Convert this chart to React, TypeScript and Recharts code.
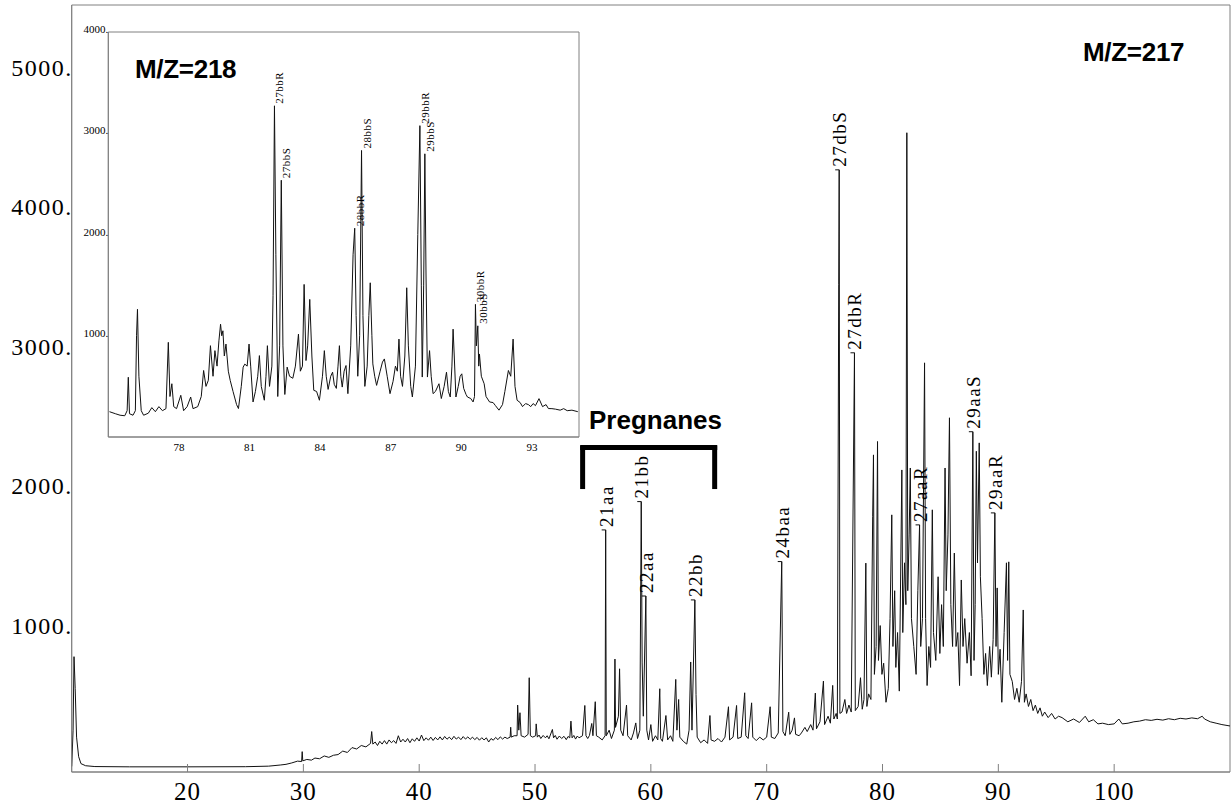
import {
  ComposedChart,
  Line,
  Scatter,
  XAxis,
  YAxis,
  ReferenceArea,
  ReferenceLine,
} from "recharts";

type Pt = [number, number];

const SERIF = "'Liberation Serif', 'Times New Roman', serif";
const SANS = "'Liberation Sans', Arial, sans-serif";
const AXIS_GRAY = "#808080";
const TRACE = "#111";

// main m/z 217 trace, retention time vs intensity
const X_TICKS = [20, 30, 40, 50, 60, 70, 80, 90, 100];
const Y_TICKS = [1000, 2000, 3000, 4000, 5000];

const solventFront: Pt[] = [
  [10.0, 40], [10.12, 300], [10.2, 827], [10.3, 600], [10.42, 250], [10.6, 110],
  [10.8, 60], [11.2, 45], [12, 39], [15, 37], [20, 37], [25, 38],
];

const ramp: Pt[] = [
  [27, 42], [28, 50], [28.5, 55], [29, 65], [29.5, 78], [29.85, 75], [29.9, 146],
  [29.95, 80], [30.3, 90], [30.7, 85], [31, 100], [31.4, 95], [31.8, 115],
  [32.2, 105], [32.6, 120], [33, 125], [33.4, 150], [33.8, 140], [34.2, 175],
  [34.6, 165], [35, 190], [35.4, 180], [35.8, 205], [35.9, 290], [36.0, 200],
  [36.2, 215], [36.4, 190], [36.6, 220], [36.8, 200], [37.0, 225], [37.2, 200],
  [37.4, 230], [37.6, 210], [37.8, 225], [38, 205], [38.2, 260], [38.4, 215],
  [38.6, 235], [38.8, 215], [39.0, 240], [39.2, 210], [39.4, 238], [39.6, 220],
  [39.8, 245], [40, 222], [40.2, 265], [40.4, 225], [40.6, 245], [40.8, 228],
  [41.0, 250], [41.2, 226], [41.4, 248], [41.6, 230], [41.8, 252], [42, 230],
  [42.2, 255], [42.4, 235], [42.6, 250], [42.8, 232], [43.0, 256], [43.2, 236],
  [43.4, 250], [43.6, 232], [43.8, 254], [44, 236], [44.2, 252], [44.4, 234],
  [44.6, 250], [44.8, 232], [45.0, 248], [45.2, 228], [45.4, 246], [45.6, 230],
  [45.8, 245], [46, 215], [46.2, 240], [46.4, 228], [46.6, 248], [46.8, 232],
  [47.0, 252], [47.2, 236], [47.4, 250],
];

const earlyPeaks: Pt[] = [
  [47.6, 240], [47.85, 250], [47.9, 321], [47.95, 250], [48.2, 260], [48.45, 260],
  [48.5, 480], [48.6, 300], [48.7, 425], [48.8, 260], [49.1, 250], [49.4, 270],
  [49.5, 676], [49.6, 260], [49.8, 250], [50.05, 260], [50.1, 345], [50.2, 250],
  [50.35, 265], [50.5, 240], [50.7, 262], [50.9, 245], [51.05, 260], [51.2, 238],
  [51.5, 305], [51.6, 245], [51.75, 262], [51.9, 235], [52.1, 258], [52.3, 240],
  [52.5, 256], [52.7, 232], [52.85, 255], [53.0, 245], [53.1, 365], [53.2, 245],
  [53.35, 262], [53.5, 236], [53.65, 258], [53.8, 245], [54.1, 260], [54.3, 477],
  [54.4, 260], [54.55, 240], [54.7, 262], [54.9, 348], [55.0, 260], [55.2, 504],
  [55.3, 260],
];

const pregnaneZone: Pt[] = [
  [55.5, 250], [55.8, 230], [56.05, 260], [56.1, 1736], [56.15, 260], [56.4, 300],
  [56.6, 240], [56.85, 300], [56.9, 810], [56.95, 320], [57.2, 400], [57.3, 740],
  [57.4, 300], [57.6, 260], [57.9, 480], [58.0, 260], [58.3, 230], [58.5, 280],
  [58.7, 352], [58.85, 240], [59.05, 300], [59.17, 1939], [59.25, 782], [59.35, 400],
  [59.57, 1262], [59.65, 300], [59.8, 230], [60.0, 340], [60.15, 220], [60.4, 260],
  [60.6, 230], [60.77, 597], [60.85, 240], [61.0, 220], [61.3, 405], [61.45, 230],
  [61.7, 260], [61.9, 220], [62.15, 664], [62.25, 300], [62.4, 520], [62.5, 250],
  [62.8, 220], [63.1, 200], [63.3, 300], [63.44, 789], [63.55, 300], [63.8, 1234],
  [63.9, 556], [64.0, 250], [64.3, 210], [64.6, 230], [64.9, 205], [65.1, 405],
  [65.2, 230], [65.5, 220], [65.8, 240], [66.1, 215], [66.4, 250], [66.7, 468],
  [66.8, 230], [67.1, 250], [67.4, 477], [67.5, 240], [67.8, 250], [68.1, 568],
  [68.2, 260], [68.4, 240], [68.7, 496], [68.8, 250], [69.1, 225], [69.4, 250],
  [69.7, 230], [70.0, 250], [70.3, 468], [70.4, 250], [70.7, 240], [71.0, 280],
  [71.3, 1509], [71.4, 290], [71.6, 260], [71.9, 429], [72.0, 270], [72.2, 300],
  [72.4, 388], [72.5, 270], [72.8, 260], [73.0, 280],
];

const steraneZone: Pt[] = [
  [73.3, 320], [73.5, 290], [73.8, 340], [74.0, 300], [74.2, 566], [74.3, 310],
  [74.6, 360], [74.9, 652], [75.0, 340], [75.3, 400], [75.5, 350], [75.7, 621],
  [75.8, 380], [76.0, 420], [76.1, 380], [76.22, 3494], [76.26, 4318], [76.32, 420],
  [76.5, 430], [76.75, 520], [76.9, 420], [77.1, 480], [77.3, 430], [77.58, 3006],
  [77.65, 440], [77.9, 470], [78.1, 676], [78.25, 450], [78.4, 520], [78.56, 1498],
  [78.65, 470], [78.8, 560], [79.0, 520], [79.15, 1830], [79.22, 2274], [79.3, 700],
  [79.45, 900], [79.57, 2370], [79.65, 800], [79.8, 1050], [79.95, 700], [80.1, 780],
  [80.3, 500], [80.5, 600], [80.65, 1100], [80.8, 1844], [80.9, 900], [81.05, 1300],
  [81.15, 750], [81.3, 1000], [81.45, 580], [81.67, 2166], [81.75, 1000], [81.9, 1500],
  [82.02, 1200], [82.1, 4584], [82.18, 1300], [82.3, 1700], [82.4, 2180], [82.5, 1100],
  [82.7, 900], [82.9, 700], [83.05, 1300], [83.2, 1772], [83.3, 900], [83.45, 1100],
  [83.63, 2934], [83.72, 1100], [83.85, 620], [84.0, 900], [84.15, 750], [84.3, 1880],
  [84.4, 1000], [84.6, 800], [84.8, 1400], [84.95, 850], [85.1, 1200], [85.25, 900],
  [85.4, 2180], [85.5, 1300], [85.65, 1700], [85.78, 2540], [85.9, 1200], [86.05, 900],
  [86.2, 1570], [86.35, 900], [86.5, 1000], [86.65, 620], [86.8, 1377], [86.95, 900],
  [87.1, 1100], [87.3, 780], [87.5, 1000], [87.65, 690], [87.8, 2440], [87.9, 800],
  [88.0, 1200], [88.1, 2300], [88.2, 1500], [88.35, 2360], [88.45, 1400], [88.6, 1100],
  [88.75, 700], [88.9, 850], [89.05, 620], [89.25, 900], [89.4, 680], [89.55, 950],
  [89.7, 1858], [89.8, 900], [89.9, 1320], [90.0, 700], [90.15, 880], [90.3, 500],
  [90.5, 1000], [90.7, 1500], [90.8, 800], [90.9, 1507], [91.0, 700], [91.2, 650],
  [91.4, 520], [91.6, 600], [91.8, 500], [92.0, 650], [92.15, 1162], [92.25, 500],
  [92.4, 560], [92.6, 470], [92.8, 520], [93.0, 440], [93.2, 480], [93.4, 420],
  [93.6, 460], [93.8, 400], [94.0, 430], [94.3, 390], [94.6, 420], [94.9, 380],
  [95.2, 400],
];

const tail: Pt[] = [
  [95.5, 390], [96, 360], [96.5, 380], [97, 355], [97.5, 400], [97.8, 360],
  [98.2, 375], [98.6, 345], [99, 350], [99.5, 340], [100, 345], [100.4, 380],
  [100.7, 345], [101.2, 350], [101.7, 360], [102.2, 365], [102.7, 375], [103.2, 370],
  [103.7, 378], [104.2, 372], [104.7, 382], [105.2, 375], [105.7, 385], [106.2, 380],
  [106.7, 388], [107.2, 382], [107.6, 400], [107.8, 380], [108.3, 360], [108.8, 350],
  [109.3, 340], [110, 330],
];

const mainLabels = [
  { t: 56.1, v: 1736, name: "21aa" },
  { t: 59.17, v: 1939, name: "21bb" },
  { t: 59.57, v: 1262, name: "22aa" },
  { t: 63.8, v: 1234, name: "22bb" },
  { t: 71.3, v: 1509, name: "24baa" },
  { t: 76.26, v: 4318, name: "27dbS" },
  { t: 77.58, v: 3006, name: "27dbR" },
  { t: 83.2, v: 1772, name: "27aaR" },
  { t: 87.8, v: 2440, name: "29aaS" },
  { t: 89.7, v: 1858, name: "29aaR" },
];

// pregnane bracket, in data units
const BRACKET_LEFT = 54.11;
const BRACKET_RIGHT = 65.51;
const BRACKET_TOP = 2327;
const BRACKET_FOOT = 2029;

// inset m/z 218 trace
const INSET_X_TICKS = [78, 81, 84, 87, 90, 93];
const INSET_Y_TICKS = [1000, 2000, 3000, 4000];

const insetTrace: Pt[] = [
  [75.05, 250], [75.3, 230], [75.5, 215], [75.7, 210], [75.8, 260], [75.85, 590],
  [75.9, 230], [76.05, 215], [76.15, 260], [76.2, 1000], [76.24, 1261], [76.3, 600],
  [76.4, 260], [76.5, 215], [76.7, 235], [76.85, 290], [77.0, 250], [77.15, 300],
  [77.3, 260], [77.45, 280], [77.55, 935], [77.62, 400], [77.7, 526], [77.78, 300],
  [77.9, 280], [78.08, 412], [78.2, 260], [78.35, 300], [78.5, 395], [78.6, 280],
  [78.8, 300], [78.95, 400], [79.05, 657], [79.15, 500], [79.25, 560], [79.34, 902],
  [79.45, 600], [79.53, 853], [79.62, 700], [79.7, 950], [79.77, 1114], [79.82, 1000],
  [79.87, 1049], [79.93, 800], [80.0, 918], [80.1, 650], [80.18, 559], [80.3, 450],
  [80.45, 320], [80.53, 281], [80.65, 500], [80.73, 690], [80.8, 720], [80.9, 700],
  [80.98, 918], [81.05, 700], [81.15, 346], [81.25, 450], [81.35, 600], [81.42, 804],
  [81.5, 500], [81.63, 363], [81.7, 600], [81.76, 902], [81.85, 500], [81.95, 700],
  [82.0, 1400], [82.06, 3271], [82.12, 1800], [82.2, 400], [82.28, 900], [82.35, 2536],
  [82.42, 900], [82.5, 420], [82.6, 690], [82.7, 600], [82.84, 580], [82.95, 700],
  [83.08, 1016], [83.16, 650], [83.25, 700], [83.32, 1507], [83.4, 755], [83.47, 900],
  [83.56, 1359], [83.65, 800], [83.73, 461], [83.85, 450], [83.97, 363], [84.1, 600],
  [84.18, 853], [84.26, 600], [84.34, 470], [84.45, 600], [84.53, 640], [84.6, 520],
  [84.69, 480], [84.76, 700], [84.82, 902], [84.88, 600], [84.94, 493], [85.02, 650],
  [85.1, 706], [85.18, 428], [85.3, 900], [85.4, 1800], [85.47, 2062], [85.53, 1200],
  [85.6, 600], [85.68, 1000], [85.76, 2830], [85.82, 1200], [85.9, 500], [86.0, 700],
  [86.07, 1200], [86.13, 1523], [86.2, 1000], [86.24, 722], [86.32, 600], [86.4, 510],
  [86.55, 650], [86.65, 740], [86.73, 771], [86.85, 600], [86.97, 428], [87.1, 550],
  [87.2, 700], [87.28, 650], [87.35, 967], [87.42, 600], [87.5, 500], [87.6, 800],
  [87.68, 1474], [87.75, 900], [87.85, 500], [87.92, 395], [88.05, 700], [88.15, 2000],
  [88.24, 3075], [88.3, 1500], [88.34, 592], [88.4, 1500], [88.45, 2797], [88.5, 1600],
  [88.56, 592], [88.65, 853], [88.72, 600], [88.8, 428], [88.9, 450], [89.05, 526],
  [89.15, 380], [89.27, 500], [89.37, 640], [89.45, 450], [89.53, 395], [89.6, 700],
  [89.65, 1065], [89.7, 800], [89.77, 395], [89.87, 500], [89.95, 600], [90.02, 624],
  [90.1, 480], [90.2, 420], [90.26, 395], [90.4, 380], [90.5, 346], [90.56, 400],
  [90.6, 1310], [90.64, 900], [90.7, 1098], [90.74, 700], [90.77, 820], [90.85, 600],
  [90.97, 526], [91.05, 400], [91.2, 346], [91.35, 340], [91.45, 310], [91.6, 265],
  [91.75, 320], [91.85, 450], [92.0, 657], [92.1, 600], [92.2, 967], [92.28, 500],
  [92.37, 363], [92.5, 340], [92.6, 300], [92.73, 330], [92.85, 320], [92.95, 300],
  [93.05, 330], [93.15, 310], [93.3, 379], [93.45, 300], [93.6, 320], [93.7, 281],
  [93.85, 280], [94.0, 275], [94.2, 265], [94.35, 280], [94.5, 260], [94.7, 265],
  [94.95, 250],
];

const insetLabels = [
  { t: 82.06, v: 3271, name: "27bbR" },
  { t: 82.35, v: 2536, name: "27bbS" },
  { t: 85.47, v: 2062, name: "28bbR" },
  { t: 85.76, v: 2830, name: "28bbS" },
  { t: 88.24, v: 3075, name: "29bbR" },
  { t: 88.45, v: 2797, name: "29bbS" },
  { t: 90.6, v: 1310, name: "30bbR" },
  { t: 90.7, v: 1098, name: "30bbS" },
];

const mainData = [
  ...solventFront,
  ...ramp,
  ...earlyPeaks,
  ...pregnaneZone,
  ...steraneZone,
  ...tail,
].map(([t, v]) => ({ t, v }));

const insetData = insetTrace.map(([t, v]) => ({ t, v }));

function MainXTick(props: any) {
  const { x, y, payload } = props;
  return (
    <g>
      <line x1={x} x2={x} y1={y} y2={y - 8} stroke={AXIS_GRAY} />
      <text x={x} y={y + 28} textAnchor="middle" fontFamily={SERIF} fontSize={25} letterSpacing={1} fill="#000">
        {payload.value}
      </text>
    </g>
  );
}

function MainYTick(props: any) {
  const { x, y, payload } = props;
  return (
    <text x={x + 1} y={y + 1} textAnchor="end" fontFamily={SERIF} fontSize={24} letterSpacing={1.5} fill="#000">
      {payload.value}.
    </text>
  );
}

function InsetXTick(props: any) {
  const { x, y, payload } = props;
  return (
    <text x={x} y={y + 14} textAnchor="middle" fontFamily={SERIF} fontSize={11} fill="#000">
      {payload.value}
    </text>
  );
}

function InsetYTick(props: any) {
  const { x, y, payload } = props;
  return (
    <text x={x} y={y + 1} textAnchor="end" fontFamily={SERIF} fontSize={11} fill="#000">
      {payload.value}.
    </text>
  );
}

function MainPeakLabel(props: any) {
  const { cx, cy, payload } = props;
  const tx = cx + 7;
  const ty = cy - 3;
  return (
    <g>
      <line x1={cx - 4} x2={cx} y1={cy} y2={cy} stroke={TRACE} />
      <text
        x={tx}
        y={ty}
        transform={`rotate(-90 ${tx} ${ty})`}
        fontFamily={SERIF}
        fontSize={19}
        letterSpacing={1.5}
        fill="#000"
      >
        {payload.name}
      </text>
    </g>
  );
}

function InsetPeakLabel(props: any) {
  const { cx, cy, payload } = props;
  const tx = cx + 9;
  const ty = cy - 2;
  return (
    <text
      x={tx}
      y={ty}
      transform={`rotate(-90 ${tx} ${ty})`}
      fontFamily={SERIF}
      fontSize={11}
      letterSpacing={0.5}
      fill="#000"
    >
      {payload.name}
    </text>
  );
}

export default function App() {
  return (
    <div style={{ position: "absolute", left: 0, top: 0, width: 1231, height: 807, background: "#fff" }}>
      <div style={{ position: "absolute", left: 0, top: 0 }}>
        <ComposedChart width={1231} height={807} data={mainData} margin={{ top: 5, right: 1, bottom: 0, left: 0 }}>
          <XAxis
            type="number"
            dataKey="t"
            domain={[10, 110]}
            ticks={X_TICKS}
            allowDataOverflow
            height={35}
            tickSize={0}
            tickMargin={0}
            tickLine={false}
            axisLine={{ stroke: AXIS_GRAY }}
            tick={MainXTick}
          />
          <YAxis
            type="number"
            domain={[0, 5500]}
            ticks={Y_TICKS}
            allowDataOverflow
            width={71.7}
            tickSize={0}
            tickMargin={0}
            tickLine={false}
            axisLine={{ stroke: AXIS_GRAY }}
            tick={MainYTick}
          />
          <ReferenceArea x1={10} x2={110} y1={0} y2={5500} fill="none" stroke={AXIS_GRAY} />
          <Line
            type="linear"
            dataKey="v"
            stroke={TRACE}
            strokeWidth={1}
            dot={false}
            isAnimationActive={false}
          />
          <Scatter data={mainLabels} dataKey="v" shape={MainPeakLabel} isAnimationActive={false} />
          <ReferenceLine
            segment={[{ x: 53.9, y: BRACKET_TOP }, { x: 65.73, y: BRACKET_TOP }]}
            stroke="#000"
            strokeWidth={5}
          />
          <ReferenceLine
            segment={[{ x: BRACKET_LEFT, y: BRACKET_FOOT }, { x: BRACKET_LEFT, y: BRACKET_TOP + 13 }]}
            stroke="#000"
            strokeWidth={5}
          />
          <ReferenceLine
            segment={[{ x: BRACKET_RIGHT, y: BRACKET_FOOT }, { x: BRACKET_RIGHT, y: BRACKET_TOP + 13 }]}
            stroke="#000"
            strokeWidth={5}
          />
        </ComposedChart>
      </div>

      <div style={{ position: "absolute", left: 0, top: 0 }}>
        <ComposedChart width={600} height={470} data={insetData} margin={{ top: 32, right: 21, bottom: 0, left: 0 }}>
          <XAxis
            type="number"
            dataKey="t"
            domain={[75, 95]}
            ticks={INSET_X_TICKS}
            allowDataOverflow
            height={33}
            tickSize={0}
            tickMargin={0}
            tickLine={false}
            axisLine={{ stroke: AXIS_GRAY }}
            tick={InsetXTick}
          />
          <YAxis
            type="number"
            domain={[0, 4000]}
            ticks={INSET_Y_TICKS}
            allowDataOverflow
            width={108.3}
            tickSize={0}
            tickMargin={0}
            tickLine={false}
            axisLine={{ stroke: AXIS_GRAY }}
            tick={InsetYTick}
          />
          <ReferenceArea x1={75} x2={95} y1={0} y2={4000} fill="none" stroke={AXIS_GRAY} />
          <Line
            type="linear"
            dataKey="v"
            stroke={TRACE}
            strokeWidth={1}
            dot={false}
            isAnimationActive={false}
          />
          <Scatter data={insetLabels} dataKey="v" shape={InsetPeakLabel} isAnimationActive={false} />
        </ComposedChart>
      </div>

      <svg
        width={1231}
        height={807}
        style={{ position: "absolute", left: 0, top: 0, pointerEvents: "none" }}
      >
        <text x={1083} y={61} fontFamily={SANS} fontWeight="bold" fontSize={26} letterSpacing={-0.3} fill="#000">
          M/Z=217
        </text>
        <text x={135} y={78} fontFamily={SANS} fontWeight="bold" fontSize={26} letterSpacing={-0.3} fill="#000">
          M/Z=218
        </text>
        <text x={589} y={429} fontFamily={SANS} fontWeight="bold" fontSize={26} fill="#000">
          Pregnanes
        </text>
      </svg>
    </div>
  );
}
